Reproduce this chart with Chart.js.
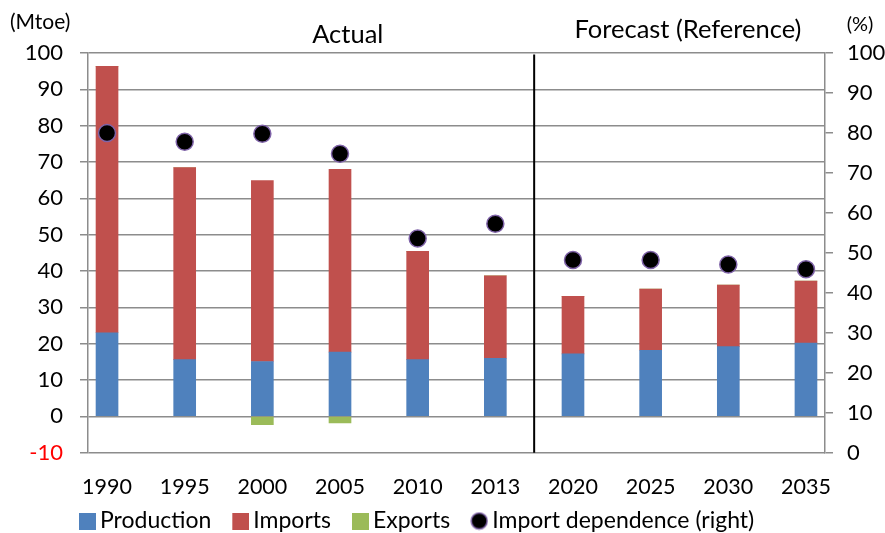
<!DOCTYPE html>
<html>
<head>
<meta charset="utf-8">
<script src="https://cdn.jsdelivr.net/npm/chart.js@4/dist/chart.umd.min.js"></script>
<style>
  html, body { margin: 0; padding: 0; background: #fff; }
  #wrap { width: 885px; height: 533px; position: relative; }
</style>
</head>
<body>
<div id="wrap"><canvas id="c" width="885" height="533"></canvas></div>
<script>
// Years shown on the category axis (actual 1990-2013, forecast 2020-2035)
const years = ['1990', '1995', '2000', '2005', '2010', '2013', '2020', '2025', '2030', '2035'];
// Supply balance, Mtoe
const production = [23.0, 15.6, 15.1, 17.7, 15.6, 16.0, 17.2, 18.2, 19.2, 20.2];
const imports    = [73.3, 52.9, 49.8, 50.3, 29.8, 22.7, 15.8, 16.8, 16.9, 17.0];
const exports    = [0, 0, -2.3, -1.8, 0, 0, 0, 0, 0, 0];
// Import dependence, % (right axis)
const dependence = [80.0, 77.8, 79.8, 74.8, 53.6, 57.3, 48.2, 48.2, 47.1, 45.9];
// Left axis ticks (Mtoe) and right axis ticks (%)
const leftTicks  = [-10, 0, 10, 20, 30, 40, 50, 60, 70, 80, 90, 100];
const rightTicks = [0, 10, 20, 30, 40, 50, 60, 70, 80, 90, 100];
// Boundary between actual and forecast periods, in category units
const splitAt = 5.5;

const FONT = 'Lato, "Open Sans", sans-serif';
const GRID = '#8c8c8c';
const COLORS = { production: '#4f81bd', imports: '#c0504d', exports: '#9bbb59' };

// Legend swatches: the mark sits at the right end of a wider transparent canvas
function squareSwatch(color) {
  const c = document.createElement('canvas');
  c.width = 37; c.height = 17;
  const g = c.getContext('2d');
  g.fillStyle = color; g.fillRect(20, 0, 17, 17);
  return c;
}
function dotSwatch() {
  const c = document.createElement('canvas');
  c.width = 37; c.height = 19;
  const g = c.getContext('2d');
  g.beginPath(); g.arc(28, 9.5, 8, 0, Math.PI * 2);
  g.fillStyle = '#000'; g.fill();
  g.lineWidth = 1.5; g.strokeStyle = '#7f63a8'; g.stroke();
  return c;
}

const pts = (arr) => arr.map((v, i) => ({ x: i, y: v }));

// Period captions, axis units, the actual/forecast divider, legend placement
const annotations = {
  id: 'annotations',
  afterLayout(chart) {
    // legend row starts a little left of the plot area
    if (chart.legend) chart.legend.left = chart.chartArea.left - 30;
  },
  beforeDatasetsDraw(chart) {
    const { ctx, chartArea, scales } = chart;
    const x = scales.x.getPixelForValue(splitAt);
    ctx.save();
    ctx.strokeStyle = '#000';
    ctx.lineWidth = 2;
    ctx.beginPath();
    ctx.moveTo(x, chartArea.top + 1.5);
    ctx.lineTo(x, chartArea.bottom);
    ctx.stroke();
    ctx.restore();
  },
  afterDraw(chart) {
    const { ctx, chartArea, scales } = chart;
    ctx.save();
    ctx.fillStyle = '#000';
    ctx.textBaseline = 'middle';
    ctx.font = '21px ' + FONT;
    ctx.textAlign = 'left';
    ctx.fillText('(Mtoe)', 10, 22);
    ctx.font = '20px ' + FONT;
    ctx.textAlign = 'center';
    ctx.fillText('(%)', chartArea.right + 35, 25);
    ctx.font = '25.5px ' + FONT;
    ctx.fillText('Actual', scales.x.getPixelForValue(3.1), 35);
    ctx.fillText('Forecast (Reference)', scales.x.getPixelForValue(7.48), 30);
    ctx.restore();
  }
};

new Chart(document.getElementById('c'), {
  type: 'bar',
  data: {
    datasets: [
      { label: 'Production', data: pts(production), backgroundColor: COLORS.production,
        stack: 's', yAxisID: 'y', order: 1, swatch: squareSwatch(COLORS.production) },
      { label: 'Imports', data: pts(imports), backgroundColor: COLORS.imports,
        stack: 's', yAxisID: 'y', order: 1, swatch: squareSwatch(COLORS.imports) },
      { label: 'Exports', data: pts(exports), backgroundColor: COLORS.exports,
        stack: 's', yAxisID: 'y', order: 1, swatch: squareSwatch(COLORS.exports) },
      { type: 'line', label: 'Import dependence (right)', data: pts(dependence),
        yAxisID: 'y2', showLine: false, order: 0,
        pointRadius: 8.5, pointHoverRadius: 8.5,
        pointBackgroundColor: '#000', pointBorderColor: '#7f63a8', pointBorderWidth: 1.5,
        swatch: dotSwatch() }
    ]
  },
  options: {
    responsive: false,
    animation: false,
    events: [],
    layout: { padding: { left: 0, right: 0, top: 53, bottom: -9.5 } },
    datasets: { bar: { barThickness: 22 } },
    plugins: {
      tooltip: { enabled: false },
      legend: {
        position: 'bottom',
        align: 'start',
        labels: {
          usePointStyle: true,
          pointStyleWidth: 22,
          color: '#000',
          font: { family: FONT, size: 23 },
          padding: 8.5,
          sort: (a, b) => a.datasetIndex - b.datasetIndex,
          generateLabels(chart) {
            return chart.data.datasets.map((ds, i) => ({
              text: ds.label,
              datasetIndex: i,
              pointStyle: ds.swatch,
              fillStyle: '#000',
              strokeStyle: 'transparent',
              lineWidth: 0,
              hidden: false,
              fontColor: '#000'
            }));
          }
        }
      }
    },
    scales: {
      x: {
        type: 'linear',
        offset: false,
        min: -0.245,
        max: 9.245,
        grid: { display: false },
        border: { display: false },
        afterBuildTicks(scale) { scale.ticks = years.map((_, i) => ({ value: i })); },
        afterFit(scale) { scale.height = 48.3; },
        ticks: {
          callback: (v) => years[v],
          color: '#000',
          padding: 13,
          maxRotation: 0,
          font: { family: FONT, size: 21.5 }
        }
      },
      y: {
        position: 'left',
        stacked: true,
        min: leftTicks[0],
        max: leftTicks[leftTicks.length - 1],
        afterBuildTicks(scale) { scale.ticks = leftTicks.map(v => ({ value: v })); },
        afterFit(scale) { scale.width = 88; },
        grid: { color: GRID, lineWidth: 1.5, tickLength: 8, tickColor: GRID },
        border: { color: GRID, width: 1.5 },
        ticks: {
          padding: 17,
          color: (c) => (c.tick && c.tick.value < 0 ? '#ff0000' : '#000'),
          font: { family: FONT, size: 22 }
        }
      },
      y2: {
        position: 'right',
        min: rightTicks[0],
        max: rightTicks[rightTicks.length - 1],
        afterBuildTicks(scale) { scale.ticks = rightTicks.map(v => ({ value: v })); },
        afterFit(scale) { scale.width = 60; },
        grid: { drawOnChartArea: false, color: GRID, lineWidth: 1.5, tickLength: 8, tickColor: GRID },
        border: { color: GRID, width: 1.5 },
        ticks: {
          padding: 14,
          color: '#000',
          font: { family: FONT, size: 22 }
        }
      }
    }
  },
  plugins: [annotations]
});
</script>
</body>
</html>
